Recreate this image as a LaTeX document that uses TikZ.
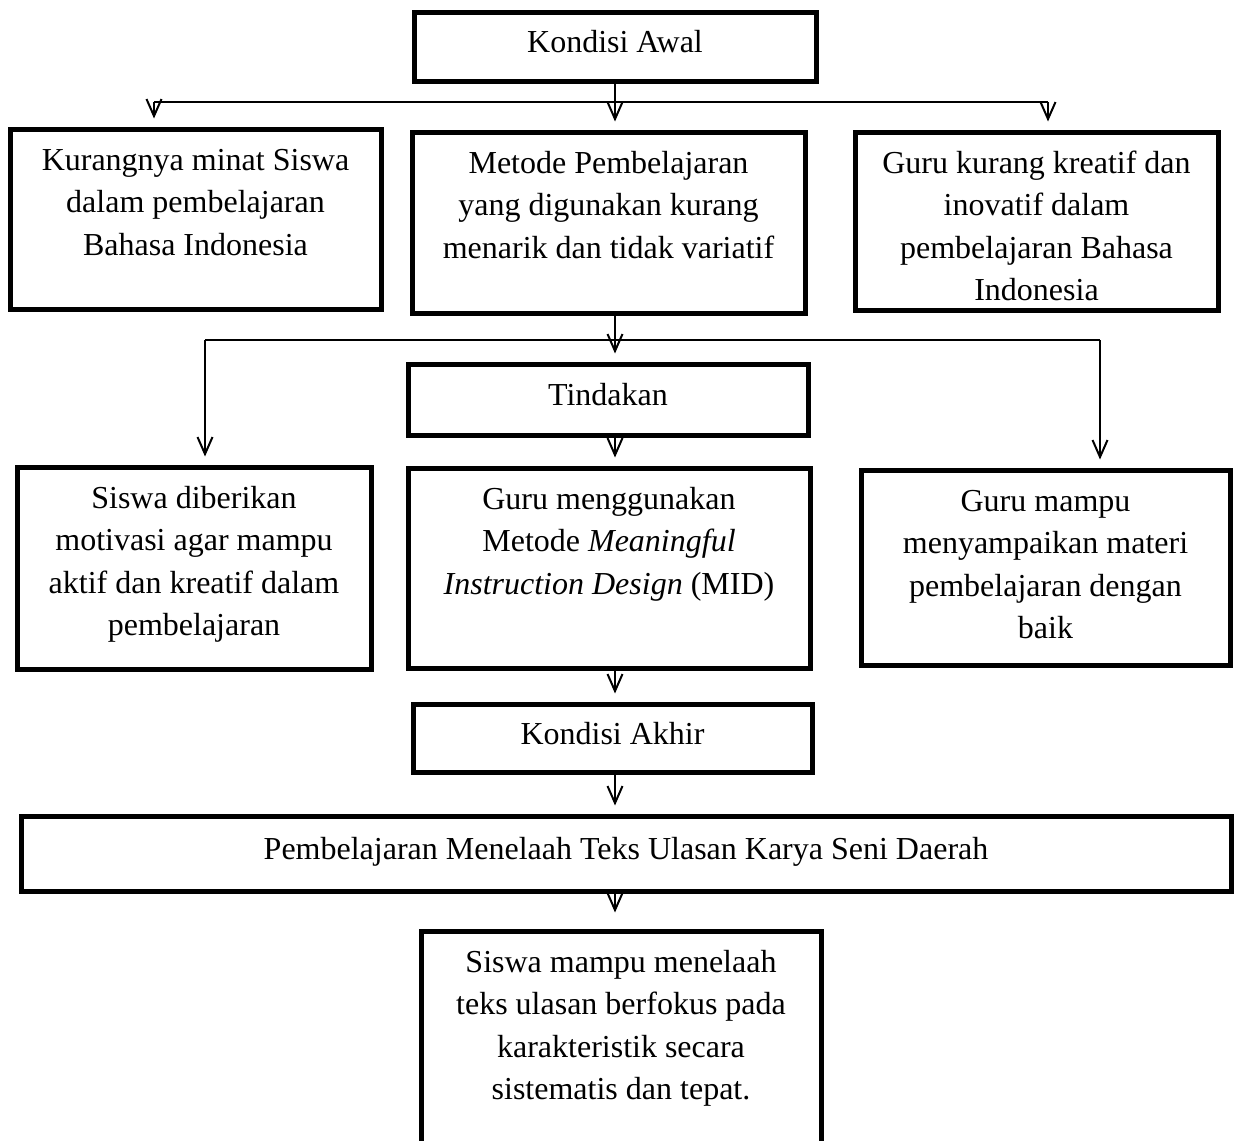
\documentclass[tikz,border=0pt]{standalone}
\usepackage{fontspec}
\setmainfont{Liberation Serif}
\usetikzlibrary{arrows.meta,fit}
\def\yCabA{102}
\def\yCabB{340}
\newcommand{\teksbox}{\fontsize{16}{21.25}\selectfont}
\tikzset{
  kotak/.style={draw, line width=2.5pt, inner sep=0pt},
  satu/.style={font=\teksbox, inner sep=0pt, anchor=base, yshift=-3pt},
  teks/.style={font=\teksbox, align=center, inner xsep=0pt, inner ysep=6.9pt, anchor=north},
  panah/.style={-{Straight Barb[length=8.5pt, width=7.5pt]}, line width=1pt, shorten >=4pt},
  garis/.style={line width=1pt},
}
\newcommand{\kotak}[6]{%
  \node[kotak, fit={(#2,#3) (#4,#5)}] (#1) {};
  \node[satu] (#1-t) at (#1.center) {#6};}
\newcommand{\kotakT}[6]{%
  \node[kotak, fit={(#2,#3) (#4,#5)}] (#1) {};
  \node[teks] (#1-t) at (#1.north) {\strut #6};}

\begin{document}
\begin{tikzpicture}[x=0.5pt, y=-0.5pt]
  \useasboundingbox (0,0) rectangle (1240,1140);

  \kotak{awal}{414}{12}{816}{81}{Kondisi Awal}
  \kotakT{masalahA}{10}{129}{381}{309}{Kurangnya minat Siswa\\dalam pembelajaran\\Bahasa Indonesia}
  \kotakT{masalahB}{412}{132}{805}{313}{Metode Pembelajaran\\yang digunakan kurang\\menarik dan tidak variatif}
  \kotakT{masalahC}{855}{132}{1218}{310}{Guru kurang kreatif dan\\inovatif dalam\\pembelajaran Bahasa\\Indonesia}

  \kotak{tindakan}{408}{364}{808}{435}{Tindakan}
  \kotakT{solusiA}{17}{467}{371}{669}{Siswa diberikan\\motivasi agar mampu\\aktif dan kreatif dalam\\pembelajaran}
  \kotakT{solusiB}{408}{468}{810}{668}{Guru menggunakan\\Metode \textit{Meaningful}\\\textit{Instruction Design} (MID)}
  \kotakT{solusiC}{861}{470}{1230}{665}{Guru mampu\\menyampaikan materi\\pembelajaran dengan\\baik}

  \kotak{akhir}{413}{704}{812}{772}{Kondisi Akhir}
  \kotak{pembelajaran}{21}{816}{1231}{891}{Pembelajaran Menelaah Teks Ulasan Karya Seni Daerah}
  \kotakT{hasil}{421}{931}{821}{1160}{Siswa mampu menelaah\\teks ulasan berfokus pada\\karakteristik secara\\sistematis dan tepat.}

  % cabang pertama
  \coordinate (cabA1) at (154,\yCabA);
  \coordinate (cabA2) at (1048,\yCabA);
  \draw[garis] (cabA1) -- (cabA2);
  \draw[panah] (awal.south) -- (masalahB.north -| awal.south);
  \draw[panah] (cabA1) -- (cabA1 |- masalahA.north);
  \draw[panah] (cabA2) -- (cabA2 |- masalahC.north);

  % cabang kedua
  \coordinate (cabB1) at (205,\yCabB);
  \coordinate (cabB2) at (1100,\yCabB);
  \draw[garis] (cabB1) -- (cabB2);
  \draw[panah] (masalahB.south -| awal.south) -- (tindakan.north -| awal.south);
  \draw[panah] (cabB1) -- (cabB1 |- solusiA.north);
  \draw[panah] (cabB2) -- (cabB2 |- solusiC.north);

  \draw[panah] (tindakan.south -| awal.south) -- (solusiB.north -| awal.south);
  \draw[panah] (solusiB.south -| awal.south) -- (akhir.north -| awal.south);
  \draw[panah] (akhir.south -| awal.south) -- (pembelajaran.north -| awal.south);
  \draw[panah, shorten >=8pt] (pembelajaran.south -| awal.south) -- (hasil.north -| awal.south);
\end{tikzpicture}
\end{document}
